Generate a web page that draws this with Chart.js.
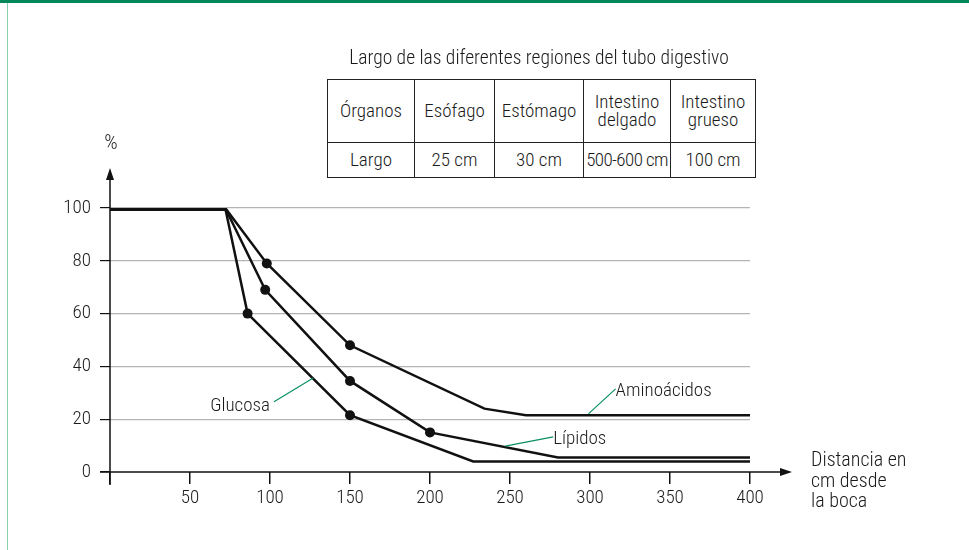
<!DOCTYPE html>
<html lang="es">
<head>
<meta charset="utf-8">
<title>Absorción a lo largo del tubo digestivo</title>
<script src="https://cdn.jsdelivr.net/npm/chart.js@4.4.1/dist/chart.umd.min.js"></script>
<style>
  html, body { margin: 0; padding: 0; background: #fff; }
  #page { position: relative; width: 969px; height: 550px; overflow: hidden;
          font-family: 'Roboto Condensed', 'Liberation Sans Narrow', sans-serif; font-weight: 300; color: #1a1a1a; }
  #topbar { position: absolute; left: 0; top: 0; width: 969px; height: 3px; background: #00885a; }
  #leftline { position: absolute; left: 7px; top: 3px; width: 1px; height: 547px; background: #86cfae; }
  #grafico { position: absolute; left: 0; top: 0; }
  #titulo { position: absolute; left: 300px; width: 478px; top: 46px; text-align: center; font-size: 19.5px; }
  #tabla { position: absolute; left: 327px; top: 79px; border-collapse: collapse; font-size: 19px; background: #fff; }
  #tabla td { border: 1.5px solid #222; text-align: center; padding: 0; line-height: 18px; }
  #tabla tr.cab td { height: 62px; }
  #tabla tr.val td { height: 34px; }
</style>
</head>
<body>
<div id="page">
  <canvas id="grafico" width="969" height="550"></canvas>
  <div id="topbar"></div>
  <div id="leftline"></div>
  <div id="titulo">Largo de las diferentes regiones del tubo digestivo</div>
  <table id="tabla">
    <tr class="cab"></tr>
    <tr class="val"></tr>
  </table>
</div>
<script>
// largo de cada región
const organos = ['Órganos', 'Esófago', 'Estómago', 'Intestino<br>delgado', 'Intestino<br>grueso'];
const largos = ['Largo', '25 cm', '30 cm', '500-600 cm', '100 cm'];
const anchosColumna = [86, 79, 88, 86, 84];

// % sin absorber según la distancia desde la boca (cm)
const boca_x = [0, 72];
const boca_y = [100, 100];
const amino_x = [72, 98, 150, 234, 260, 400];
const amino_y = [100, 79, 48, 24, 21.5, 21.5];
const lipidos_x = [72, 97, 150, 200, 280, 400];
const lipidos_y = [100, 69, 34.5, 15, 5.5, 5.5];
const glucosa_x = [72, 86, 150, 227, 400];
const glucosa_y = [100, 60, 21.5, 4, 4];
// puntos marcados en cada curva
const amino_puntos = [98, 150];
const lipidos_puntos = [97, 150, 200];
const glucosa_puntos = [86, 150];

// etiquetas: [texto, x línea, y línea, x texto, y texto, alineación]
const etiquetas = [
  ['Glucosa', 127, 35.6, 100, 25.5, 'right'],
  ['Aminoácidos', 299, 22, 316, 31.5, 'left'],
  ['Lípidos', 247, 9.8, 277, 13.3, 'left']
];

const cab = document.querySelector('#tabla tr.cab');
const val = document.querySelector('#tabla tr.val');
organos.forEach((o, i) => {
  let td = document.createElement('td');
  td.innerHTML = o;
  td.style.width = anchosColumna[i] + 'px';
  cab.appendChild(td);
  let td2 = document.createElement('td');
  td2.textContent = largos[i];
  if (i == 3) td2.style.letterSpacing = '-0.6px';
  val.appendChild(td2);
});

function puntos(xs, ys) {
  return xs.map((x, i) => ({ x: x, y: ys[i] }));
}
function radios(xs, marcados) {
  return xs.map(x => marcados.includes(x) ? 5 : 0);
}

const FUENTE = "'Roboto Condensed', 'Liberation Sans Narrow', sans-serif";

function serie(xs, ys, marcados) {
  return {
    data: puntos(xs, ys),
    borderColor: '#111',
    borderWidth: 2.5,
    pointRadius: radios(xs, marcados),
    pointBackgroundColor: '#111',
    pointBorderWidth: 0,
    tension: 0
  };
}

// ejes con flecha, rótulos de ejes y etiquetas de las curvas
const extras = {
  id: 'extras',
  beforeDatasetsDraw(chart) {
    const ctx = chart.ctx;
    const xs = chart.scales.x, ys = chart.scales.y;
    const x0 = xs.getPixelForValue(0), y0 = ys.getPixelForValue(0);
    ctx.save();
    ctx.strokeStyle = '#111';
    ctx.fillStyle = '#111';
    ctx.lineWidth = 1.5;
    ctx.beginPath();
    ctx.moveTo(x0, y0 + 13);
    ctx.lineTo(x0, 178);
    ctx.moveTo(x0 - 10, y0);
    ctx.lineTo(782, y0);
    ctx.stroke();
    // flechas
    ctx.beginPath();
    ctx.moveTo(x0, 168);
    ctx.lineTo(x0 - 4, 180);
    ctx.lineTo(x0 + 4, 180);
    ctx.closePath();
    ctx.fill();
    ctx.beginPath();
    ctx.moveTo(792, y0);
    ctx.lineTo(780, y0 - 4);
    ctx.lineTo(780, y0 + 4);
    ctx.closePath();
    ctx.fill();
    ctx.restore();
  },
  afterDatasetsDraw(chart) {
    const ctx = chart.ctx;
    const xs = chart.scales.x, ys = chart.scales.y;
    ctx.save();
    ctx.fillStyle = '#1a1a1a';
    ctx.textBaseline = 'middle';
    ctx.textAlign = 'center';
    ctx.font = '300 21px ' + FUENTE;
    ctx.fillText('%', xs.getPixelForValue(0) + 1, 144);
    ctx.font = '300 19px ' + FUENTE;
    etiquetas.forEach(e => {
      const ax = xs.getPixelForValue(e[1]), ay = ys.getPixelForValue(e[2]);
      const tx = xs.getPixelForValue(e[3]), ty = ys.getPixelForValue(e[4]);
      ctx.strokeStyle = '#0a9060';
      ctx.lineWidth = 1.2;
      ctx.beginPath();
      ctx.moveTo(ax, ay);
      ctx.lineTo(e[5] == 'right' ? tx + 4 : tx, e[5] == 'right' ? ty - 3 : ty);
      ctx.stroke();
      ctx.textAlign = e[5];
      ctx.fillText(e[0], tx, ty + 2);
    });
    ctx.font = '300 20px ' + FUENTE;
    ctx.textAlign = 'left';
    ['Distancia en', 'cm desde', 'la boca'].forEach((t, i) => {
      ctx.fillText(t, 811, 461 + i * 20.5);
    });
    ctx.restore();
  }
};

const ctx = document.getElementById('grafico').getContext('2d');
const chart = new Chart(ctx, {
  type: 'line',
  data: {
    datasets: [
      { data: puntos(boca_x, boca_y), borderColor: '#111', borderWidth: 6, pointRadius: 0, borderCapStyle: 'butt' },
      serie(amino_x, amino_y, amino_puntos),
      serie(lipidos_x, lipidos_y, lipidos_puntos),
      serie(glucosa_x, glucosa_y, glucosa_puntos)
    ]
  },
  options: {
    responsive: false,
    animation: false,
    layout: { padding: { left: 10, right: 219, top: 208, bottom: 38 } },
    plugins: { legend: { display: false }, tooltip: { enabled: false }, title: { display: false } },
    scales: {
      x: {
        type: 'linear', min: 0, max: 400,
        afterFit: s => { s.height = 40; },
        border: { display: false },
        grid: { drawOnChartArea: false, tickLength: 12, tickColor: '#111', lineWidth: 1.5 },
        ticks: {
          stepSize: 50, padding: 3, color: '#1a1a1a', maxRotation: 0,
          font: { family: FUENTE, size: 19, weight: 300 },
          callback: v => v == 0 ? '' : v
        }
      },
      y: {
        min: 0, max: 100,
        afterFit: s => { s.width = 100; },
        border: { display: false },
        grid: {
          tickLength: 10, tickColor: '#111', lineWidth: 1.2,
          color: c => c.tick && c.tick.value == 0 ? 'rgba(0,0,0,0)' : '#b4b4b4'
        },
        ticks: { stepSize: 20, padding: 9, color: '#1a1a1a', font: { family: FUENTE, size: 19, weight: 300 } }
      }
    }
  },
  plugins: [extras]
});
</script>
</body>
</html>
